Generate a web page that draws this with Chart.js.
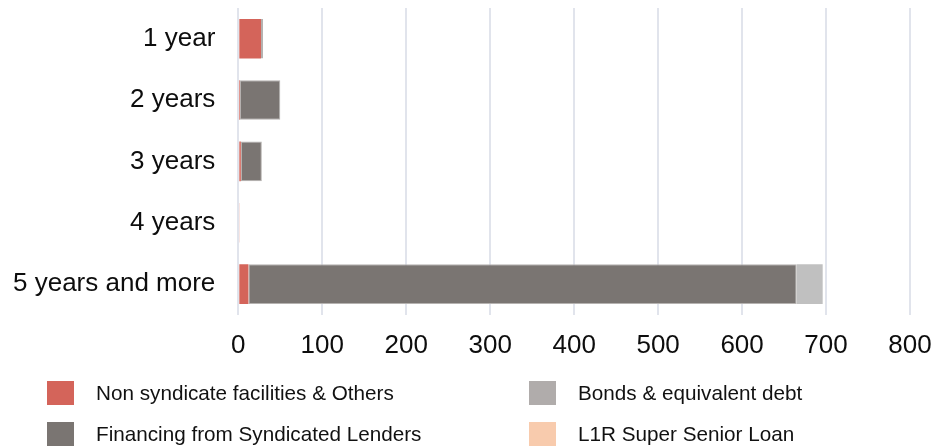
<!DOCTYPE html>
<html>
<head>
<meta charset="utf-8">
<script src="https://cdn.jsdelivr.net/npm/chart.js@4/dist/chart.umd.min.js"></script>
<style>
  html, body { margin: 0; padding: 0; background: #fff; }
  #wrap { position: relative; width: 935px; height: 448px; overflow: hidden; }
  #chartBox { position: absolute; left: 0; top: 0; width: 935px; height: 382px; }
  #legend { position: absolute; left: 0; top: 0; width: 935px; height: 448px;
            font-family: "Liberation Sans", Arial, sans-serif; font-size: 20.7px; color: #111; }
  .li { position: absolute; display: flex; align-items: center; height: 24px; }
  .sw { width: 27px; height: 24px; margin-right: 22px; flex: none; }
  .tx { white-space: nowrap; }
</style>
</head>
<body>
<div id="wrap">
  <div id="chartBox"><canvas id="c"></canvas></div>
  <div id="legend"></div>
</div>
<script>
const categories = ["1 year", "2 years", "3 years", "4 years", "5 years and more"];
const nonSyndicate = [27, 2, 3, 1, 12];
const syndicated = [2.5, 48, 25, 0, 653];
const bonds = [0, 0, 0, 0, 31];
const l1rSuperSenior = [0, 0, 0, 0, 0];
const xTicks = [0, 100, 200, 300, 400, 500, 600, 700, 800];

const seriesNames = ["Non syndicate facilities & Others", "Financing from Syndicated Lenders", "Bonds & equivalent debt", "L1R Super Senior Loan"];
const barColors = ["#D4645A", "#7A7572", "#C0C0C0", "#F8CBAD"];
const legendColors = ["#D4645A", "#7A7572", "#B0ACAB", "#F8CBAD"];

const series = [nonSyndicate, syndicated, bonds, l1rSuperSenior];
const datasets = series.map((d, i) => ({
  label: seriesNames[i],
  data: d,
  backgroundColor: barColors[i],
  borderColor: i === 1 ? "#B5B2B0" : barColors[i],
  borderWidth: i === 1 ? 1 : 0,
  borderSkipped: false,
  barPercentage: 0.645,
  categoryPercentage: 1.0
}));

const font = "Liberation Sans, Arial, sans-serif";
const chart = new Chart(document.getElementById("c"), {
  type: "bar",
  data: { labels: categories, datasets },
  options: {
    indexAxis: "y",
    responsive: true,
    maintainAspectRatio: false,
    animation: false,
    layout: { padding: { top: 8, right: 25, left: 13, bottom: 6 } },
    plugins: { legend: { display: false }, tooltip: { enabled: false } },
    scales: {
      x: {
        stacked: true,
        min: 0, max: 800,
        afterBuildTicks: (ax) => { ax.ticks = xTicks.map(v => ({ value: v })); },
        afterFit: (ax) => { ax.paddingLeft = 0; ax.paddingRight = 0; },
        grid: { color: "#E1E4EC", lineWidth: 2, drawTicks: false },
        border: { display: false },
        ticks: { color: "#0d0d0d", font: { family: font, size: 26 }, padding: 15, maxRotation: 0 }
      },
      y: {
        stacked: true,
        afterFit: (ax) => { ax.paddingTop = 0; ax.paddingBottom = 0; ax.width = ax.width - 23; },
        grid: { display: false, drawTicks: false },
        border: { display: false },
        ticks: { color: "#0d0d0d", font: { family: font, size: 26 }, padding: 23 }
      }
    }
  }
});

const pos = [[47, 381], [47, 422], [529, 381], [529, 422]];
const legendEl = document.getElementById("legend");
chart.data.datasets.forEach((ds, i) => {
  const item = document.createElement("div");
  item.className = "li";
  item.style.left = pos[i][0] + "px";
  item.style.top = pos[i][1] + "px";
  const sw = document.createElement("div");
  sw.className = "sw";
  sw.style.background = legendColors[i];
  const tx = document.createElement("span");
  tx.className = "tx";
  tx.textContent = ds.label;
  item.appendChild(sw);
  item.appendChild(tx);
  legendEl.appendChild(item);
});
</script>
</body>
</html>
